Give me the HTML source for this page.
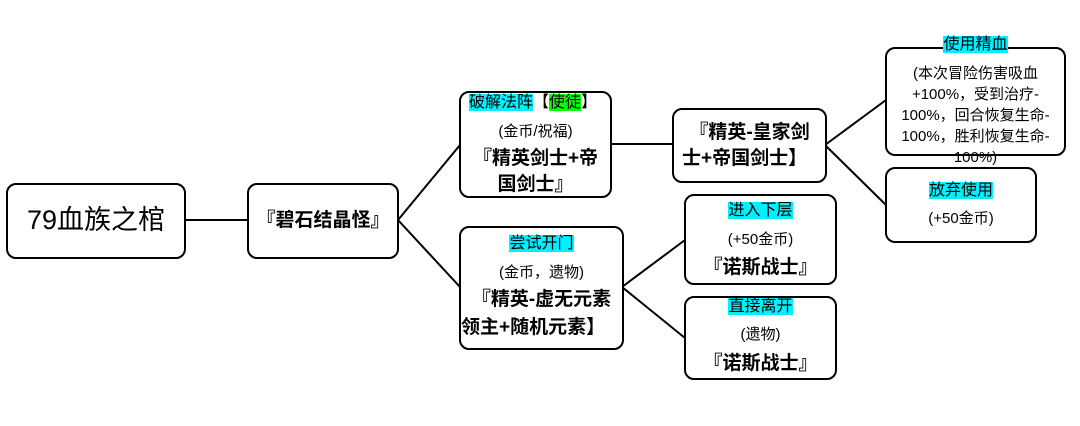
<!DOCTYPE html>
<html><head><meta charset="utf-8"><style>
body{margin:0;width:1080px;height:426px;background:#fff;position:relative;overflow:hidden;font-family:"Liberation Sans","Noto Sans CJK SC",sans-serif;color:#000}
.b{position:absolute;border:2px solid #000;border-radius:10px;box-sizing:border-box;background:#fff}
.t{position:absolute;left:0;right:0;text-align:center;white-space:nowrap;line-height:1}
.c{background:#00f0ff}
.g{background:#00ff00}
.s{font-size:15px}
.h{font-size:16px}
.bold{font-size:19px;font-weight:bold}
</style></head><body>
<svg width="1080" height="426" style="position:absolute;left:0;top:0">
<g stroke="#000" stroke-width="2" fill="none">
<line x1="185" y1="220" x2="248" y2="220"/>
<line x1="398" y1="220" x2="460" y2="145"/>
<line x1="398" y1="220" x2="460" y2="287"/>
<line x1="610" y1="144" x2="673" y2="144"/>
<line x1="825" y1="145" x2="886" y2="100"/>
<line x1="825" y1="145" x2="886" y2="205"/>
<line x1="622" y1="287" x2="685" y2="240"/>
<line x1="622" y1="287" x2="685" y2="338"/>
</g></svg>

<div class="b" style="left:6px;top:183px;width:180px;height:76px"><div class="t" style="top:22px;font-size:27px">79血族之棺</div></div>

<div class="b" style="left:247px;top:183px;width:152px;height:76px"><div class="t bold" style="top:26px">『碧石结晶怪』</div></div>

<div class="b" style="left:459px;top:91px;width:153px;height:107px">
<div class="t h" style="top:2px;text-align:left;left:8px"><span class="c">破解法阵</span>【<span class="g">使徒</span>】</div>
<div class="t s" style="top:31px">(金币/祝福)</div>
<div class="t bold" style="top:56px">『精英剑士+帝</div>
<div class="t bold" style="top:82px">国剑士』</div>
</div>

<div class="b" style="left:459px;top:226px;width:165px;height:124px">
<div class="t h" style="top:8px"><span class="c">尝试开门</span></div>
<div class="t s" style="top:37px">(金币，遗物)</div>
<div class="t bold" style="top:62px">『精英-虚无元素</div>
<div class="t bold" style="top:90px;text-align:left;left:0">领主+随机元素】</div>
</div>

<div class="b" style="left:672px;top:108px;width:155px;height:75px">
<div class="t bold" style="top:13px">『精英-皇家剑</div>
<div class="t bold" style="top:39px;text-align:left;left:8px">士+帝国剑士】</div>
</div>

<div class="b" style="left:684px;top:194px;width:153px;height:91px">
<div class="t h" style="top:7px"><span class="c">进入下层</span></div>
<div class="t s" style="top:36px">(+50金币)</div>
<div class="t bold" style="top:62px">『诺斯战士』</div>
</div>

<div class="b" style="left:684px;top:296px;width:153px;height:84px">
<div class="t h" style="top:1px"><span class="c">直接离开</span></div>
<div class="t s" style="top:29px">(遗物)</div>
<div class="t bold" style="top:56px">『诺斯战士』</div>
</div>

<div class="b" style="left:885px;top:47px;width:181px;height:109px"></div>
<div style="position:absolute;left:885px;width:181px;top:37px;text-align:center;line-height:1" class="h"><span class="c">使用精血</span></div>
<div style="position:absolute;left:885px;width:181px;top:63px;text-align:center;font-size:15px;line-height:21px">(本次冒险伤害吸血<br>+100%，受到治疗-<br>100%，回合恢复生命-<br>100%，胜利恢复生命-<br>100%)</div>

<div class="b" style="left:885px;top:167px;width:152px;height:76px">
<div class="t h" style="top:14px"><span class="c">放弃使用</span></div>
<div class="t s" style="top:42px">(+50金币)</div>
</div>
</body></html>
